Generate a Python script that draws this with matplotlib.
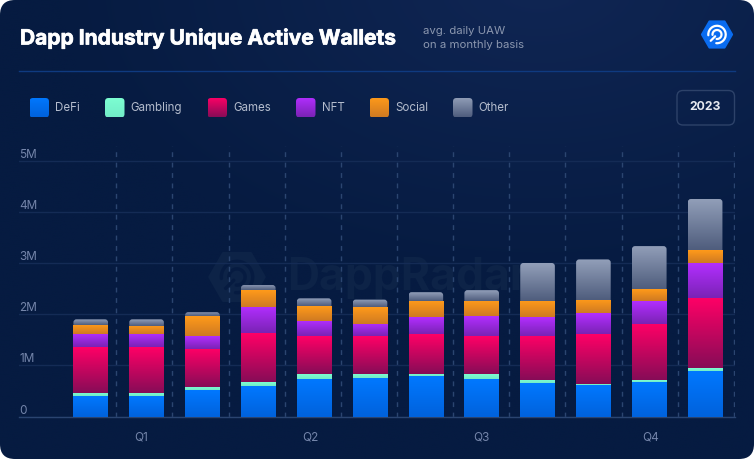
import matplotlib
matplotlib.use("Agg")
import matplotlib.pyplot as plt
import matplotlib.patheffects as pe
import numpy as np
from matplotlib.colors import LinearSegmentedColormap, to_rgb
from matplotlib.patches import Arc, FancyBboxPatch, RegularPolygon

plt.rcParams['font.family'] = ['Inter', 'DejaVu Sans']

# values in millions (cumulative tops were converted to segments)
defi = [0.40, 0.40, 0.51, 0.605, 0.73, 0.75, 0.795, 0.73, 0.65, 0.61, 0.68, 0.90]
gambling = [0.07, 0.07, 0.06, 0.075, 0.10, 0.08, 0.045, 0.10, 0.06, 0.03, 0.035, 0.045]
games = [0.88, 0.88, 0.75, 0.95, 0.74, 0.74, 0.775, 0.74, 0.865, 0.975, 1.10, 1.38]
nft = [0.26, 0.26, 0.25, 0.51, 0.305, 0.24, 0.325, 0.39, 0.365, 0.405, 0.445, 0.675]
social = [0.18, 0.16, 0.39, 0.33, 0.285, 0.33, 0.32, 0.30, 0.325, 0.265, 0.23, 0.25]
other = [0.11, 0.13, 0.08, 0.10, 0.15, 0.145, 0.17, 0.21, 0.735, 0.785, 0.84, 1.00]

series = [defi, gambling, games, nft, social, other]
names = ["DeFi", "Gambling", "Games", "NFT", "Social", "Other"]
y_ticks = [0, 1, 2, 3, 4, 5]
y_labels = ["0", "1M", "2M", "3M", "4M", "5M"]
quarters = ["Q1", "Q2", "Q3", "Q4"]

# top and bottom colour of each segment
tops = ["#0078ff", "#7dffd2", "#ff0066", "#b22eff", "#ff9a1a", "#929fb9"]
bottoms = ["#0062dc", "#72ecc8", "#870c57", "#7a23b5", "#cf7a22", "#4f5d7d"]

W, H = 754, 459
fig = plt.figure(figsize=(W / 100, H / 100), dpi=100, facecolor="white")


def gradient(ax, x0, x1, bottom, top, c_top, c_bottom, clip, zorder=2):
    cmap = LinearSegmentedColormap.from_list("g", [c_top, c_bottom])
    im = ax.imshow(np.linspace(0, 1, 64).reshape(-1, 1), cmap=cmap, aspect="auto",
                   extent=(x0, x1, bottom, top), origin="upper",
                   interpolation="bilinear", zorder=zorder)
    im.set_clip_path(clip)
    return im


def logo(ax, cx, cy, size, fill, line, lw):
    ax.add_patch(RegularPolygon((cx, cy), 6, radius=size, orientation=np.pi / 2,
                                facecolor=fill, edgecolor=fill, lw=lw, joinstyle="round"))
    for r in (0.30 * size, 0.58 * size):
        ax.add_patch(Arc((cx, cy), 2 * r, 2 * r, theta1=175, theta2=455, color=line,
                         lw=lw, capstyle="round"))
    ax.plot([cx - 0.12 * size, cx - 0.42 * size], [cy + 0.12 * size, cy + 0.42 * size],
            color=line, lw=lw, solid_capstyle="round")


# page background and decorations, in pixel coordinates
bg = fig.add_axes([0, 0, 1, 1], zorder=0)
yy, xx = np.mgrid[0:H:120j, 0:W:200j]
glow = np.clip(1 - np.hypot((xx - 540) / 480, (yy + 20) / 300), 0, 1)
dark, light = np.array(to_rgb("#061b41")), np.array(to_rgb("#102654"))
img = dark + (light - dark) * glow[..., None]
card = FancyBboxPatch((0, 0), W, H, boxstyle="round,pad=0,rounding_size=15",
                      transform=bg.transData, facecolor="none", edgecolor="none")
bg.add_patch(card)
bg_im = bg.imshow(img, extent=(0, W, H, 0), aspect="auto", interpolation="bilinear", zorder=0)
bg_im.set_clip_path(card)

bg.plot([19, 735], [71, 71], color="#0f3a80", lw=1)
title = bg.text(20, 38, "Dapp Industry Unique Active Wallets", color="white", fontsize=15.1,
                fontweight="bold", va="center")
title.set_path_effects([pe.withStroke(linewidth=0.5, foreground="white")])
bg.text(423, 31, "avg. daily UAW", color="#8b97af", fontsize=8.2, va="center")
bg.text(423, 45.5, "on a monthly basis", color="#8b97af", fontsize=8.2, va="center")
logo(bg, 717, 34.5, 15, "#0a6cf0", "white", 1.6)

# watermark behind the bars
logo(bg, 237, 277, 27, "#0d2347", "#061b41", 2.5)
bg.text(287, 278, "DappRadar", color="#0d2347", fontsize=32, fontweight="bold", va="center")

legend_x = [29.5, 105, 207.5, 296, 369.5, 453]
for name, x, c_top, c_bottom in zip(names, legend_x, tops, bottoms):
    swatch = FancyBboxPatch((x, 98), 19.5, 19.5, boxstyle="round,pad=0,rounding_size=3.5",
                            transform=bg.transData, facecolor="none", edgecolor="none")
    bg.add_patch(swatch)
    gradient(bg, x, x + 19.5, 117.5, 98, c_top, c_bottom, swatch)
    bg.text(x + 25.7, 108, name, color="#b4bccd", fontsize=8.3, va="center")

bg.add_patch(FancyBboxPatch((677, 90.5), 57.5, 34.5, boxstyle="round,pad=0,rounding_size=6",
                            facecolor="none", edgecolor="#2d4269", lw=1))
bg.text(705.5, 107.5, "2023", color="#e6e9f0", fontsize=8.8, fontweight="bold",
        ha="center", va="center")

bg.set_xlim(0, W)
bg.set_ylim(H, 0)
bg.axis("off")

# chart
ax = fig.add_axes([19 / W, (H - 416.6) / H, 716 / W, 270.6 / H], zorder=1)
ax.patch.set_alpha(0)

months = np.arange(12)
bar_width = 0.62
bottom = np.zeros(12)
for k, values in enumerate(series):
    bars = ax.bar(months, values, bar_width, bottom=bottom, color="none", zorder=3)
    for bar in bars:
        x0, y0, w, h = bar.get_x(), bar.get_y(), bar.get_width(), bar.get_height()
        clip = bar
        if k == len(series) - 1:
            # only the top segment has rounded corners
            clip = FancyBboxPatch((x0, y0 - 0.2), w, h + 0.2, transform=ax.transData,
                                  boxstyle="round,pad=0,rounding_size=0.055",
                                  mutation_aspect=1.09)
        gradient(ax, x0, x0 + w, y0, y0 + h, tops[k], bottoms[k], clip, zorder=3)
    bottom = bottom + np.array(values)

ax.set_xlim(-1.284, 11.535)
ax.set_ylim(0, 5.285)

ax.set_yticks(y_ticks)
ax.set_yticklabels(y_labels, ha="left", va="bottom", color="#7485aa", fontsize=8.5)
ax.tick_params(axis="y", length=0, pad=0)

ax.set_xticks([0.906, 3.94, 6.99, 10.03])
ax.set_xticklabels(quarters, color="#7485aa", fontsize=8.5)
ax.set_xticks(0.458 + months * 1.005, minor=True)
ax.tick_params(axis="x", which="both", length=0)
ax.tick_params(axis="x", which="major", pad=10.5)

ax.set_axisbelow(True)
ax.grid(axis="y", color="#142b55", lw=1)
ax.grid(axis="x", which="minor", color="#2b4570", lw=1, linestyle=(0, (3.5, 4)))
ax.grid(axis="x", which="major", visible=False)

for side in ("top", "right", "left"):
    ax.spines[side].set_visible(False)
ax.spines["bottom"].set_color("#2a4470")
ax.spines["bottom"].set_linewidth(1)

fig.savefig("out.png", dpi=100, facecolor=fig.get_facecolor())
